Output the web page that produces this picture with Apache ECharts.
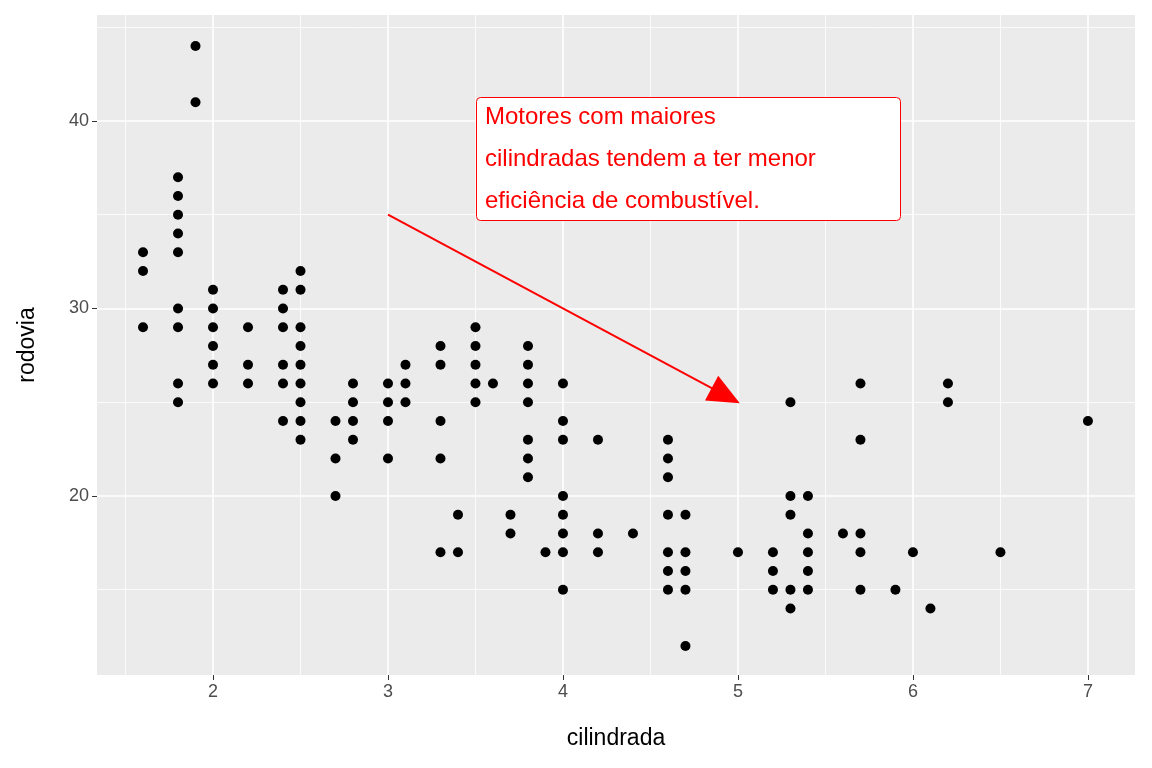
<!DOCTYPE html>
<html><head><meta charset="utf-8">
<script src="https://cdn.jsdelivr.net/npm/echarts@6/dist/echarts.min.js"></script>
<style>html,body{margin:0;padding:0;background:#fff}#c{width:1152px;height:768px}</style>
</head><body><div id="c"></div>
<script>
const displ = [1.6,1.8,1.9,2.0,2.2,2.4,2.5,2.7,2.8,3.0,3.1,3.3,3.4,3.5,3.6,3.7,3.8,3.9,4.0,4.2,4.4,4.6,4.7,5.0,5.2,5.3,5.4,5.6,5.7,5.9,6.0,6.1,6.2,6.5,7.0];
const hwyLists = [
 [33,32,29],[37,36,35,34,33,30,29,26,25],[44,41],[31,30,29,28,27,26],[29,27,26],
 [31,30,29,27,26,24],[32,31,29,28,27,26,25,24,23],[24,22,20],[26,25,24,23],[26,25,24,22],
 [27,26,25],[28,27,24,22,17],[19,17],[29,28,27,26,25],[26],[19,18],[28,27,26,25,23,22,21],
 [17],[26,24,23,20,19,18,17,15],[23,18,17],[18],[23,22,21,19,17,16,15],[19,17,16,15,12],
 [17],[17,16,15],[25,20,19,15,14],[20,18,17,16,15],[18],[26,23,18,17,15],[15],[17],[14],
 [26,25],[17],[24]];
const xTicks = [2,3,4,5,6,7];
const yTicks = [20,30,40];
const xMinor = [1.5,2.5,3.5,4.5,5.5,6.5];
const yMinor = [15,25,35,45];
const arrowFrom = [3,35], arrowTo = [4.93,25.35];
const note = 'Motores com maiores\ncilindradas tendem a ter menor\neficiência de combustível.';

const pts = [];
displ.forEach((d,i)=>hwyLists[i].forEach(h=>pts.push([d,h])));
const gridLines = [];
xTicks.forEach(v=>gridLines.push({xAxis:v,lineStyle:{width:1.6}}));
xMinor.forEach(v=>gridLines.push({xAxis:v,lineStyle:{width:0.8}}));
yTicks.forEach(v=>gridLines.push({yAxis:v,lineStyle:{width:1.6}}));
yMinor.forEach(v=>gridLines.push({yAxis:v,lineStyle:{width:0.8}}));

const ch = echarts.init(document.getElementById('c'));
const lbl = {color:'#4d4d4d',fontSize:18,fontFamily:'Liberation Sans'};
ch.setOption({
 animation:false,
 grid:{left:97,right:17,top:15,bottom:93,show:true,backgroundColor:'#ebebeb',borderWidth:0},
 xAxis:{type:'value',min:1.337,max:7.269,splitLine:{show:false},
  axisLine:{show:false},axisTick:{show:true,customValues:xTicks,length:5,lineStyle:{color:'#333'}},
  axisLabel:Object.assign({customValues:xTicks,margin:8},lbl),
  name:'cilindrada',nameLocation:'middle',nameGap:52,nameTextStyle:{fontSize:23,color:'#000',fontFamily:'Liberation Sans'}},
 yAxis:{type:'value',min:10.45,max:45.65,splitLine:{show:false},
  axisLine:{show:false},axisTick:{show:true,customValues:yTicks,length:5,lineStyle:{color:'#333'}},
  axisLabel:Object.assign({customValues:yTicks,margin:8},lbl),
  name:'rodovia',nameLocation:'middle',nameGap:58,nameTextStyle:{fontSize:23,color:'#000',fontFamily:'Liberation Sans'}},
 series:[
  {type:'line',data:[],silent:true,markLine:{silent:true,symbol:['none','none'],label:{show:false},
    lineStyle:{color:'#fff',type:'solid'},data:gridLines}},
  {type:'scatter',data:pts,symbolSize:10,itemStyle:{color:'#000',opacity:1},z:5},
  {type:'line',data:[],silent:true,z:6,markLine:{silent:true,symbol:['none','triangle'],symbolSize:[28,32],
    label:{show:false},lineStyle:{color:'#ff0000',width:2,type:'solid'},
    data:[[{coord:arrowFrom},{coord:arrowTo}]]}}
 ],
 graphic:[{type:'rect',left:476,top:97,shape:{width:424,height:123,r:4},
   style:{fill:'#fff',stroke:'#ff0000',lineWidth:1},z:100},
  {type:'text',left:485,top:96,style:{text:note,fill:'#ff0000',fontSize:24,lineHeight:42,
   fontFamily:'Liberation Sans'},z:101}]
});
</script></body></html>
